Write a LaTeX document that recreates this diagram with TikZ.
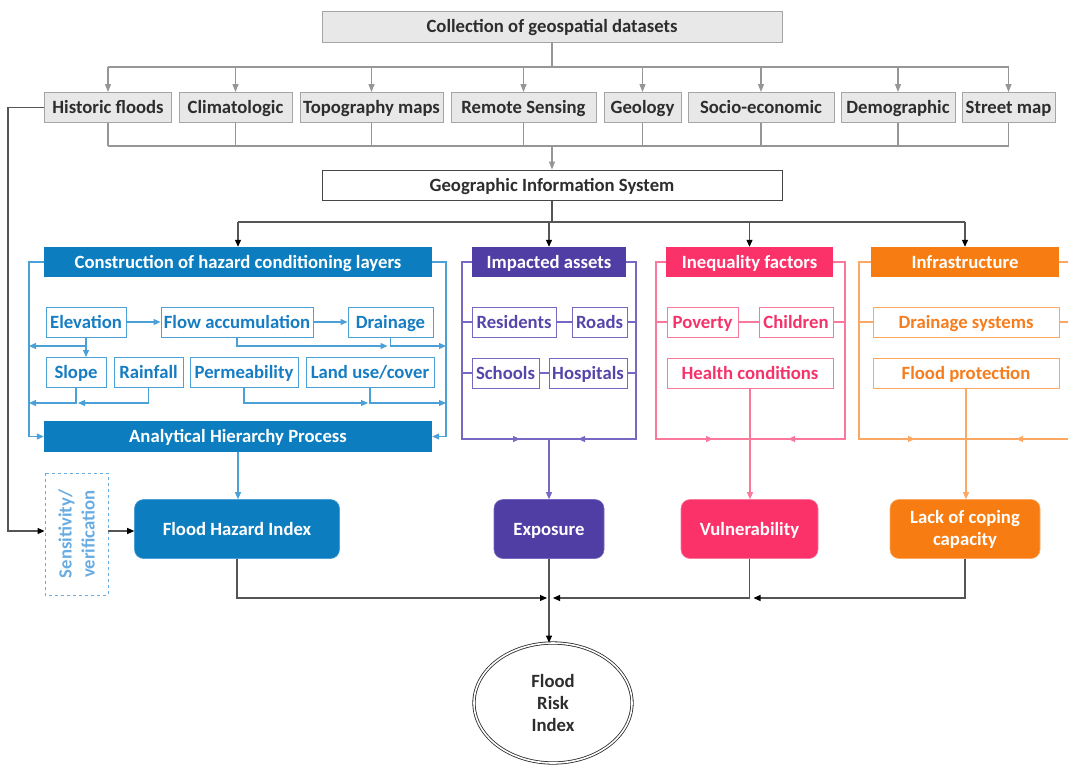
\documentclass[tikz,border=0pt]{standalone}
\usepackage{fontspec}
\setmainfont{Carlito}
\usetikzlibrary{arrows.meta,shapes.geometric}
\definecolor{gfill}{RGB}{232,232,232}
\definecolor{gbord}{RGB}{165,165,165}
\definecolor{gtext}{RGB}{45,45,45}
\definecolor{gline}{RGB}{150,150,150}
\definecolor{gisd}{RGB}{70,70,70}
\definecolor{kline}{RGB}{40,40,40}
\definecolor{bline}{RGB}{85,85,85}
\definecolor{hz}{RGB}{12,126,192}
\definecolor{hzl}{RGB}{75,160,215}
\definecolor{hzt}{RGB}{22,125,195}
\definecolor{pu}{RGB}{80,62,165}
\definecolor{pul}{RGB}{118,104,195}
\definecolor{put}{RGB}{85,70,170}
\definecolor{pk}{RGB}{250,50,105}
\definecolor{pkl}{RGB}{250,120,155}
\definecolor{pkt}{RGB}{245,50,105}
\definecolor{or}{RGB}{247,125,18}
\definecolor{orl}{RGB}{250,168,100}
\definecolor{ort}{RGB}{245,125,30}
\definecolor{sensc}{RGB}{105,172,225}
\begin{document}
\begin{tikzpicture}[x=1pt,y=-1pt,
  base/.style={font=\bfseries\fontsize{18.7}{22}\selectfont, inner sep=0pt, align=center},
  one/.style={text height=12pt, text depth=0pt},
  graybox/.style={base, one, draw=gbord, fill=gfill, text=gtext, line width=0.9pt, minimum height=30pt},
  gisbox/.style={base, one, draw=gisd, fill=white, text=gtext, line width=1pt},
  head/.style={base, one, fill=#1, text=white, minimum height=30pt},
  sub/.style={base, one, draw=#1l, fill=white, text=#1t, line width=1pt, minimum height=30pt},
  big/.style={base, fill=#1, draw=#1l, text=white, rounded corners=9pt, minimum height=59pt, line width=0.6pt},
  gl/.style={draw=gline, line width=1.1pt},
  ga/.style={gl, -{Triangle[length=8pt,width=6pt]}},
  ln/.style={draw=#1l, line width=1.1pt},
  la/.style={ln=#1, -{Triangle[length=7pt,width=6pt]}},
  kl/.style={draw=bline, line width=1.1pt},
  ka/.style={kl, -{Triangle[length=7pt,width=6pt,fill=black,color=black]}},
]
\useasboundingbox (0,0) rectangle (1068,764);

% ---------- top: datasets ----------
\node[graybox, minimum width=460pt, minimum height=31pt] (coll) at (552,26.5) {Collection of geospatial datasets};
\node[graybox, minimum width=127pt] (hist) at (108,107.5) {Historic floods};
\node[graybox, minimum width=113pt] (clim) at (235.5,107.5) {Climatologic};
\node[graybox, minimum width=143pt] (topo) at (371.5,107.5) {Topography maps};
\node[graybox, minimum width=145pt] (remo) at (523.5,107.5) {Remote Sensing};
\node[graybox, minimum width=77pt] (geol) at (642.5,107.5) {Geology};
\node[graybox, minimum width=146pt] (soci) at (761,107.5) {Socio-economic};
\node[graybox, minimum width=114pt] (demo) at (898,107.5) {Demographic};
\node[graybox, minimum width=93pt] (stre) at (1008.5,107.5) {Street map};
\node[gisbox, minimum width=460pt, minimum height=30pt] (gis) at (552,185) {Geographic Information System};

\coordinate (ytop) at (0,67);
\coordinate (ycol) at (0,146);
\coordinate (ygis) at (0,222);

\draw[gl] (coll.south) -- (coll.south |- ytop);
\draw[gl] (hist.north |- ytop) -- (stre.north |- ytop);
\foreach \n in {hist,clim,topo,remo,geol,soci,demo,stre}{
  \draw[ga] (\n.north |- ytop) -- (\n.north);
  \draw[gl] (\n.south) -- (\n.south |- ycol);
}
\draw[gl] (hist.south |- ycol) -- (stre.south |- ycol);
\draw[ga] (gis.north |- ycol) -- (gis.north);

% ---------- headers ----------
\node[head=hz, minimum width=388pt] (hzh) at (238,262) {Construction of hazard conditioning layers};
\node[head=pu, minimum width=154pt] (puh) at (549,262) {Impacted assets};
\node[head=pk, minimum width=167pt] (pkh) at (749.5,262) {Inequality factors};
\node[head=or, minimum width=188pt] (orh) at (965,262) {Infrastructure};

\draw[kl] (gis.south) -- (gis.south |- ygis);
\draw[kl] (hzh.north |- ygis) -- (orh.north |- ygis);
\foreach \n in {hzh,puh,pkh,orh} \draw[ka] (\n.north |- ygis) -- (\n.north);

% ---------- hazard group ----------
\node[sub=hz, minimum width=80pt] (elev) at (86,322) {Elevation};
\node[sub=hz, minimum width=152pt] (flow) at (237,322) {Flow accumulation};
\node[sub=hz, minimum width=85pt] (drai) at (390.5,322) {Drainage};
\node[sub=hz, minimum width=60pt] (slop) at (76,372.5) {Slope};
\node[sub=hz, minimum width=69pt] (rain) at (148.5,372.5) {Rainfall};
\node[sub=hz, minimum width=108pt] (perm) at (244,372.5) {Permeability};
\node[sub=hz, minimum width=128pt] (land) at (370,372.5) {Land use/cover};
\node[head=hz, minimum width=388pt, minimum height=31pt] (ahp) at (238,436.5) {Analytical Hierarchy Process};

\coordinate (hzL) at (29,0);
\coordinate (hzR) at (446,0);
\coordinate (ya) at (0,346);
\coordinate (yb) at (0,403);
\draw[la=hz] (hzh.west) -- (hzh.west -| hzL) -- (ahp.west -| hzL) -- (ahp.west);
\draw[la=hz] (hzh.east) -- (hzh.east -| hzR) -- (ahp.east -| hzR) -- (ahp.east);
\draw[la=hz] (elev) -- (flow);
\draw[la=hz] (flow) -- (drai);
\draw[la=hz] (elev.south) -- (elev.south |- slop.north);
\draw[la=hz] (elev.south |- ya) -- (hzL |- ya);
\draw[la=hz] (flow.south) |- ([xshift=-3pt]drai.south |- ya);
\draw[la=hz] (drai.south) |- (hzR |- ya);
\draw[la=hz] (slop.south) |- (hzL |- yb);
\draw[la=hz] (rain.south) |- ([xshift=2pt]slop.south |- yb);
\draw[la=hz] (perm.south) |- ([xshift=-2pt]land.south |- yb);
\draw[la=hz] (land.south) |- (hzR |- yb);

% ---------- impacted assets ----------
\node[sub=pu, minimum width=84pt] (resi) at (514,322) {Residents};
\node[sub=pu, minimum width=55pt] (road) at (599.5,322) {Roads};
\node[sub=pu, minimum width=67pt] (scho) at (505.5,373) {Schools};
\node[sub=pu, minimum width=78pt] (hosp) at (588,373) {Hospitals};
\coordinate (puL) at (462,0);
\coordinate (puR) at (636,0);
\coordinate (ybot) at (0,439);
\draw[ln=pu] (puh.west) -- (puh.west -| puL) -- (puL |- ybot) -- (puR |- ybot) -- (puh.east -| puR) -- (puh.east);
\draw[la=pu] (puL |- ybot) -- ([xshift=58pt]puL |- ybot);
\draw[la=pu] (puR |- ybot) -- ([xshift=-58pt]puR |- ybot);
\draw[ln=pu] (resi.west -| puL) -- (resi.west);
\draw[ln=pu] (resi) -- (road);
\draw[ln=pu] (road.east) -- (road.east -| puR);
\draw[ln=pu] (scho.west -| puL) -- (scho.west);
\draw[ln=pu] (scho) -- (hosp);
\draw[ln=pu] (hosp.east) -- (hosp.east -| puR);

% ---------- inequality ----------
\node[sub=pk, minimum width=71pt] (pove) at (702.5,322) {Poverty};
\node[sub=pk, minimum width=74pt] (chil) at (796,322) {Children};
\node[sub=pk, minimum width=166pt] (heal) at (750,373) {Health conditions};
\coordinate (pkL) at (656,0);
\coordinate (pkR) at (845,0);
\draw[ln=pk] (pkh.west) -- (pkh.west -| pkL) -- (pkL |- ybot) -- (pkR |- ybot) -- (pkh.east -| pkR) -- (pkh.east);
\draw[la=pk] (pkL |- ybot) -- ([xshift=57pt]pkL |- ybot);
\draw[la=pk] (pkR |- ybot) -- ([xshift=-57pt]pkR |- ybot);
\draw[ln=pk] (pove.west -| pkL) -- (pove.west);
\draw[ln=pk] (pove) -- (chil);
\draw[ln=pk] (chil.east) -- (chil.east -| pkR);

% ---------- infrastructure ----------
\node[sub=or, minimum width=186pt] (dsys) at (966,322) {Drainage systems};
\node[sub=or, minimum width=186pt] (fpro) at (966,373) {Flood protection};
\coordinate (orL) at (859,0);
\coordinate (orR) at (1068,0);
\draw[ln=or] (orh.west) -- (orh.west -| orL) -- (orL |- ybot) -- (orR |- ybot);
\draw[ln=or] (orh.east) -- (orh.east -| orR);
\draw[la=or] (orL |- ybot) -- ([xshift=56pt]orL |- ybot);
\draw[la=or] (orR |- ybot) -- ([xshift=-52pt]orR |- ybot);
\draw[ln=or] (dsys.west -| orL) -- (dsys.west);
\draw[ln=or] (dsys.east) -- (dsys.east -| orR);

% ---------- result boxes ----------
\node[big=hz, one, minimum width=205pt] (fhi) at (237,529) {Flood Hazard Index};
\node[big=pu, one, minimum width=110pt] (expo) at (549,529) {Exposure};
\node[big=pk, one, minimum width=137pt] (vuln) at (749.5,529) {Vulnerability};
\node[big=or, minimum width=150pt] (lack) at (965,529) {Lack of coping\\capacity};
\node[base, draw=sensc, dashed, text=sensc, rotate=90, line width=0.9pt,
      minimum width=122pt, minimum height=63pt, font=\bfseries\fontsize{18.7}{23}\selectfont] (sens) at (76.5,534) {Sensitivity/\\verification};

\draw[la=hz] (ahp.south) -- (ahp.south |- fhi.north);
\draw[la=pu] (expo.north |- ybot) -- (expo.north);
\draw[la=pk] (heal.south) -- (heal.south |- vuln.north);
\draw[la=or] (fpro.south) -- (fpro.south |- lack.north);

\coordinate (ys) at (0,531);
\coordinate (xfb) at (8,0);
\draw[ka] (hist.west) -- (hist.west -| xfb) -- (xfb |- ys) -- (sens.north |- ys);
\draw[ka] (sens.south |- ys) -- (fhi.west |- ys);

% ---------- final ----------
\node[base, ellipse, draw=kline, double, double distance=1.6pt, line width=0.8pt, text=gtext,
      minimum width=158pt, minimum height=120pt] (fri) at (553,703) {Flood\\Risk\\Index};
\coordinate (yfin) at (0,598);
\draw[ka] (fhi.south) |- ([xshift=-2pt]expo.south |- yfin);
\draw[ka] (vuln.south) |- ([xshift=4pt]expo.south |- yfin);
\draw[ka] (lack.south) |- ([xshift=4pt]vuln.south |- yfin);
\draw[ka] (expo.south) -- (expo.south |- fri.north);
\end{tikzpicture}
\end{document}
